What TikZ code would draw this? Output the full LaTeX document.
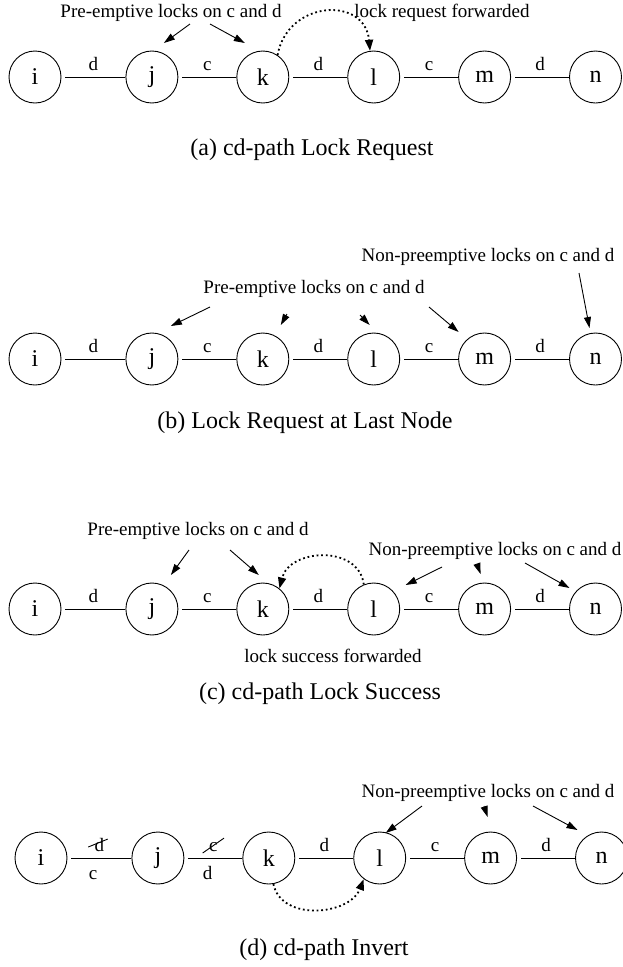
\documentclass[tikz,border=0pt]{standalone}
\usepackage{fontspec}
\setmainfont{Liberation Serif}
\usetikzlibrary{arrows.meta,positioning}

\begin{document}
\begin{tikzpicture}[
  x=1pt, y=1pt,
  node distance=58pt,
  site/.style={circle, draw, line width=0.9pt, minimum size=52pt, inner sep=0pt, font=\fontsize{24}{28}\selectfont},
  link/.style={line width=0.9pt, shorten <=4pt},
  lab/.style={font=\fontsize{19}{22}\selectfont, inner sep=1pt, text height=13pt, text depth=0pt},
  note/.style={font=\fontsize{19}{22}\selectfont, inner sep=1pt},
  subcap/.style={font=\fontsize{24}{28}\selectfont},
  ptr/.style={line width=0.9pt, -{Triangle[length=11pt,width=7pt]}},
  fwd/.style={line width=1.8pt, dash pattern=on 1.8pt off 2.8pt, -{Triangle[length=11pt,width=8pt]}},
  strike/.style={line width=0.9pt},
]
\useasboundingbox (0,0) rectangle (623,-967);

% (a) lock request
\node[site] (ai) at (35,-77) {i};
\node[site, right=64pt of ai] (aj) {j};
\node[site, right=of aj] (ak) {k};
\node[site, right=of ak] (al) {l};
\node[site, right=of al] (am) {m};
\node[site, right=of am] (an) {n};
\draw[link] (ai) -- node[lab, above=5pt] {d} (aj);
\draw[link] (aj) -- node[lab, above=5pt] {c} (ak);
\draw[link] (ak) -- node[lab, above=5pt] {d} (al);
\draw[link] (al) -- node[lab, above=5pt] {c} (am);
\draw[link] (am) -- node[lab, above=5pt] {d} (an);
\node[note] (apre) at (171,-13) {Pre-emptive locks on c and d};
\node[note] (afwd) at (442,-13) {lock request forwarded};
\draw[ptr] ([shift={(19,-11)}]apre.center) -- ([shift={(12,34)}]aj.center);
\draw[ptr] ([shift={(39,-11)}]apre.center) -- ([shift={(-18,34)}]ak.center);
\draw[fwd] (ak.56) .. controls +(10,55) and +(-5,55) .. (al.98);
\node[subcap] (acap) at (312,-150) {(a) cd-path Lock Request};

% (b) request reaches the last node
\node[site] (bi) at (35,-359) {i};
\node[site, right=64pt of bi] (bj) {j};
\node[site, right=of bj] (bk) {k};
\node[site, right=of bk] (bl) {l};
\node[site, right=of bl] (bm) {m};
\node[site, right=of bm] (bn) {n};
\draw[link] (bi) -- node[lab, above=5pt] {d} (bj);
\draw[link] (bj) -- node[lab, above=5pt] {c} (bk);
\draw[link] (bk) -- node[lab, above=5pt] {d} (bl);
\draw[link] (bl) -- node[lab, above=5pt] {c} (bm);
\draw[link] (bm) -- node[lab, above=5pt] {d} (bn);
\node[note] (bnon) at (488,-257) {Non-preemptive locks on c and d};
\node[note] (bpre) at (314,-289) {Pre-emptive locks on c and d};
\draw[ptr] ([shift={(-104,-18)}]bpre.center) -- ([shift={(19,33)}]bj.center);
\draw[ptr] ([shift={(-27,-25)}]bpre.center) -- ([shift={(18,34)}]bk.center);
\draw[ptr] ([shift={(46,-26)}]bpre.center) -- ([shift={(-4,34)}]bl.center);
\draw[ptr] ([shift={(115,-18)}]bpre.center) -- ([shift={(-26,27)}]bm.center);
\draw[ptr] ([shift={(91,-16)}]bnon.center) -- ([shift={(-6,31)}]bn.center);
\node[subcap] (bcap) at (305,-423) {(b) Lock Request at Last Node};

% (c) lock success
\node[site] (ci) at (35,-609) {i};
\node[site, right=64pt of ci] (cj) {j};
\node[site, right=of cj] (ck) {k};
\node[site, right=of ck] (cl) {l};
\node[site, right=of cl] (cm) {m};
\node[site, right=of cm] (cn) {n};
\draw[link] (ci) -- node[lab, above=5pt] {d} (cj);
\draw[link] (cj) -- node[lab, above=5pt] {c} (ck);
\draw[link] (ck) -- node[lab, above=5pt] {d} (cl);
\draw[link] (cl) -- node[lab, above=5pt] {c} (cm);
\draw[link] (cm) -- node[lab, above=5pt] {d} (cn);
\node[note] (cpre) at (198,-531) {Pre-emptive locks on c and d};
\node[note] (cnon) at (495,-551) {Non-preemptive locks on c and d};
\draw[ptr] ([shift={(-9,-19)}]cpre.center) -- ([shift={(19,34)}]cj.center);
\draw[ptr] ([shift={(32,-19)}]cpre.center) -- ([shift={(-4,34)}]ck.center);
\draw[ptr] ([shift={(-53,-16)}]cnon.center) -- ([shift={(32,24)}]cl.center);
\draw[ptr] ([shift={(-18,-13)}]cnon.center) -- ([shift={(-4,35)}]cm.center);
\draw[ptr] ([shift={(30,-12)}]cnon.center) -- ([shift={(-26,21)}]cn.center);
\draw[fwd] (cl.112) .. controls +(-5,40) and +(10,40) .. (ck.51);
\node[note] (csucc) at (333,-656) {lock success forwarded};
\node[subcap] (ccap) at (320,-694) {(c) cd-path Lock Success};

% (d) invert
\node[site] (di) at (41,-858) {i};
\node[site, right=64pt of di] (dj) {j};
\node[site, right=of dj] (dk) {k};
\node[site, right=of dk] (dl) {l};
\node[site, right=of dl] (dm) {m};
\node[site, right=of dm] (dn) {n};
\draw[link] (di) -- node[lab, above=5pt] (dold1) {d} node[lab, below=7pt, pos=.4] {c} (dj);
\draw[link] (dj) -- node[lab, above=5pt] (dold2) {c} node[lab, below=7pt, pos=.4] {d} (dk);
\draw[link] (dk) -- node[lab, above=5pt] {d} (dl);
\draw[link] (dl) -- node[lab, above=5pt] {c} (dm);
\draw[link] (dm) -- node[lab, above=5pt] {d} (dn);
\draw[strike] ([xshift=-5pt,yshift=6pt]dold1.south west) -- ([xshift=2pt,yshift=-2pt]dold1.north east);
\draw[strike] ([xshift=-5pt]dold2.south west) -- ([xshift=5pt,yshift=-1pt]dold2.north east);
\node[note] (dnon) at (488,-793) {Non-preemptive locks on c and d};
\draw[ptr] ([shift={(-66,-13)}]dnon.center) -- ([shift={(6,25)}]dl.center);
\draw[ptr] ([shift={(-4,-13)}]dnon.center) -- ([shift={(-3,41)}]dm.center);
\draw[ptr] ([shift={(45,-13)}]dnon.center) -- ([shift={(-24,28)}]dn.center);
\draw[fwd] (dk.280) .. controls +(8,-38) and +(-14,-36) .. (dl.233);
\node[subcap] (dcap) at (324,-950) {(d) cd-path Invert};
\end{tikzpicture}
\end{document}
